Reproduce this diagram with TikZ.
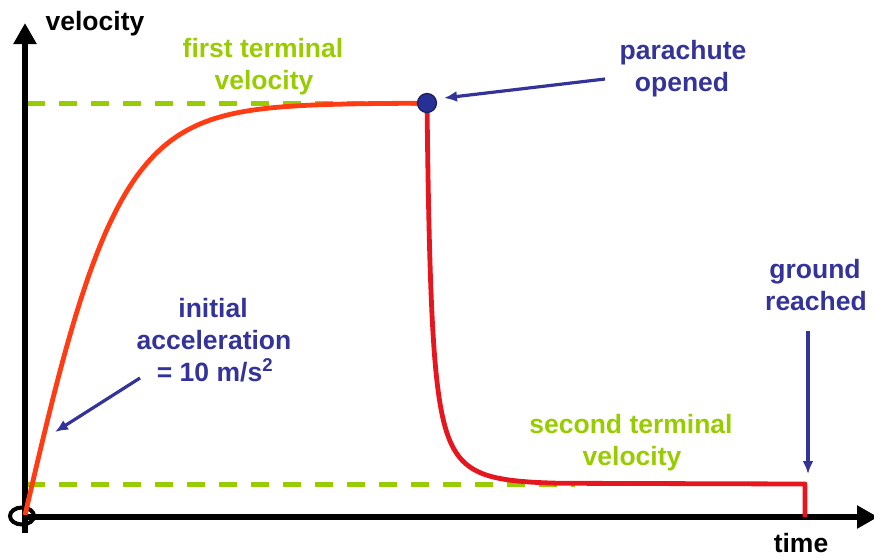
\documentclass[tikz,border=0pt]{standalone}
\usepackage{fontspec}
\setmainfont{Liberation Sans}
\usetikzlibrary{arrows.meta}
\definecolor{lblue}{RGB}{51,51,153}
\definecolor{lgreen}{RGB}{153,204,0}
\definecolor{curveA}{RGB}{255,60,20}
\definecolor{curveB}{RGB}{230,22,30}
\definecolor{dotblue}{RGB}{40,48,150}
\begin{document}
\begin{tikzpicture}[x=1pt,y=-1pt,
  lbl/.style={font=\bfseries\fontsize{26.5}{32}\selectfont, anchor=base, inner sep=0pt},
  bluelbl/.style={lbl, text=lblue},
  greenlbl/.style={lbl, text=lgreen},
  axisline/.style={line width=5.5pt, -{Triangle[length=21pt,width=22pt]}},
  dashline/.style={lgreen, line width=5pt, dash pattern=on 18pt off 14pt},
  pointer/.style={lblue, line width=3.2pt, -{Latex[length=13pt,width=11pt]}},
  redline/.style={line width=4.8pt, line join=round}]
\useasboundingbox (0,0) rectangle (874,558);
% key points
\coordinate (O) at (25,515);
\coordinate (P) at (427,103);
\coordinate (Q) at (805,484);
\coordinate (Qb) at (805,517);
\coordinate (dashAend) at (420,103);
\coordinate (dashAstart) at (27,103);
\coordinate (dashBstart) at (27,484);
\coordinate (dashBend) at (575,484);
\coordinate (yaxB) at (25,533);
\coordinate (yaxT) at (25,23);
\coordinate (xaxL) at (22,517);
\coordinate (xaxR) at (878,517);
% dashed terminal velocity lines
\draw[dashline] (dashAstart) -- (dashAend);
\draw[dashline] (dashBstart) -- (dashBend);
% axes
\draw[axisline] (yaxB) -- (yaxT);
\draw[axisline] (xaxL) -- (xaxR);
\draw[line width=4pt] (22,516) ellipse [x radius=12, y radius=8.5];
% velocity curve
\draw[redline, curveA] plot[domain=25:427, samples=120] (\x, {515-412*tanh((\x-25)/96)});
\draw[redline, curveB] plot[domain=0:3.38, samples=160, variable=\t]
  ({427+62*(0.0754*exp(\t)-0.0754)}, {484-31*(1/tanh(0.0754*exp(\t))-1)})
  -- (Q) -- (Qb);
\node[circle, fill=dotblue, draw={rgb,255:red,25;green,30;blue,90}, line width=1.2pt, minimum size=19pt, inner sep=0pt] (dot) at (P) {};
% labels
\node[lbl] (vlab) at (95,30) {velocity};
\node[lbl] (tlab) at (801,552) {time};
\node[greenlbl] (ftv1) at (263,57) {first terminal};
\node[greenlbl] (ftv2) at (264,89) {velocity};
\node[bluelbl] (po1) at (683,59) {parachute};
\node[bluelbl] (po2) at (682,91) {opened};
\node[bluelbl] (ia1) at (213,317) {initial};
\node[bluelbl] (ia2) at (214,349) {acceleration};
\node[bluelbl] (ia3) at (215,381) {= 10 m/s\textsuperscript{2}};
\node[bluelbl] (gr1) at (815,278) {ground};
\node[bluelbl] (gr2) at (816,310) {reached};
\node[greenlbl] (stv1) at (631,433) {second terminal};
\node[greenlbl] (stv2) at (632,465) {velocity};
% pointers
\coordinate (pa) at (605,79);
\coordinate (pb) at (444,98);
\coordinate (ia) at (140,378);
\coordinate (ib) at (55,432);
\coordinate (ga) at (808,331);
\coordinate (gb) at (808,474);
\draw[pointer] (pa) -- (pb);
\draw[pointer] (ia) -- (ib);
\draw[pointer] (ga) -- (gb);
\end{tikzpicture}
\end{document}
